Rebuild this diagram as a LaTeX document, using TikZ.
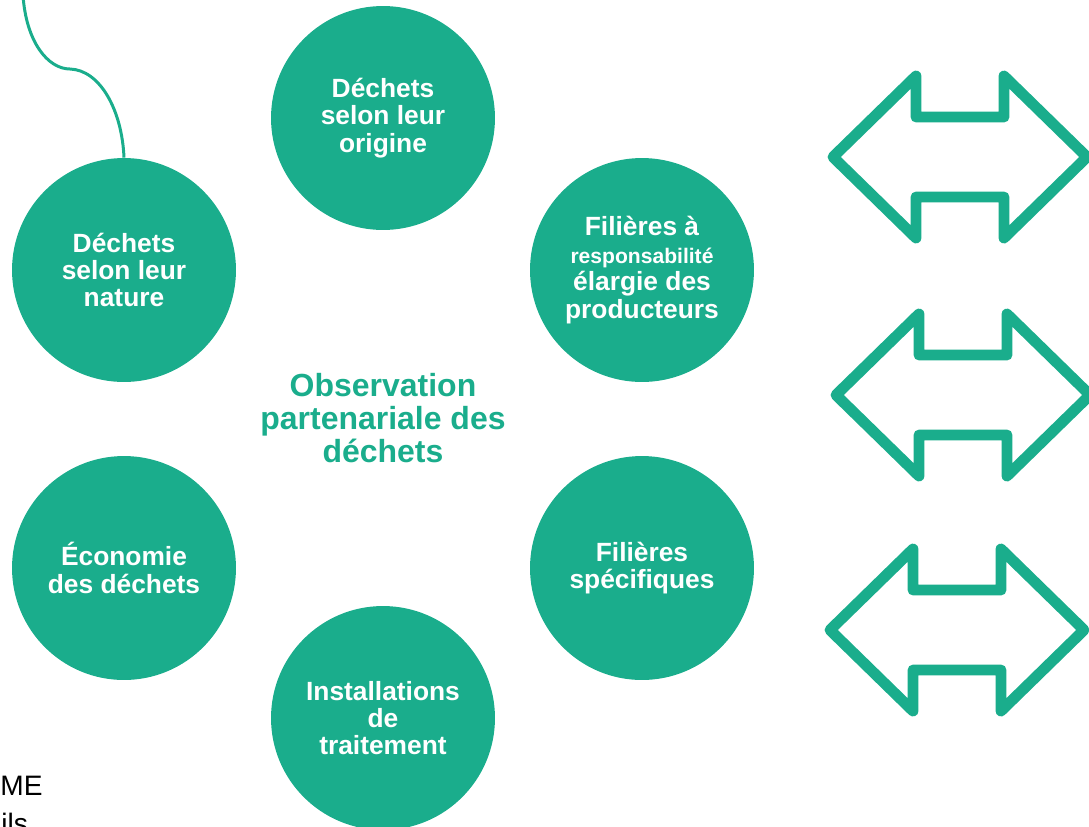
\documentclass[tikz,border=0pt]{standalone}
\usepackage{fontspec}
\setmainfont{Liberation Sans}
\usepackage{tikz}
\definecolor{obs_green}{RGB}{26,173,140}

\begin{document}
\begin{tikzpicture}[x=0.02cm, y=-0.02cm,
    bubble/.style={circle, fill=obs_green, minimum size=4.48cm, inner sep=0pt,
        text=white, align=center, font=\bfseries\fontsize{15}{15.6}\selectfont},
    twoway/.style={draw=obs_green, line width=6.2pt, line join=round}]
        \useasboundingbox (0,0) rectangle (1089,826);
        % Circles
        \node[bubble] (origine) at (383,118) {Déchets\\selon leur\\origine};
        \node[bubble] (nature) at (124,270) {Déchets\\selon leur\\nature};
        \node[bubble] (rep) at (642,270) {Filières à\\{\fontsize{12}{13}\selectfont responsabilité}\\élargie des\\producteurs};
        \node[bubble] (economie) at (124,568) {Économie\\des déchets};
        \node[bubble] (specifiques) at (642,568) {Filières\\spécifiques};
        \node[bubble] (installations) at (383,718) {Installations\\de\\traitement};
        % Center title
        \node[text=obs_green, align=center, font=\bfseries\fontsize{18.2}{18.6}\selectfont] (obs) at (383,418)
            {Observation\\partenariale des\\déchets};
        % Thread on the left
        \coordinate (fil) at (23,-5);
        \draw[obs_green, line width=1.7pt] (fil) .. controls (26,42) and (48,69) .. (70,69)
            .. controls (100,70) and (122,110) .. (nature.north);
        % Arrows
        \foreach \ax/\ay in {960/157, 963/395, 957/630}
            \draw[twoway, shift={(\ax,\ay)}] (-127,0) -- (-44,-81) -- (-44,-40) -- (44,-40) -- (44,-81)
                -- (127,0) -- (44,81) -- (44,40) -- (-44,40) -- (-44,81) -- cycle;
        % Cut-off source text
        \node[anchor=base west, inner sep=0pt, font=\fontsize{16}{19}\selectfont] (source) at (0,795) {ME};
        \node[anchor=base west, inner sep=0pt, font=\fontsize{16}{19}\selectfont] (details) at (1,833) {ils};
\end{tikzpicture}
\end{document}
